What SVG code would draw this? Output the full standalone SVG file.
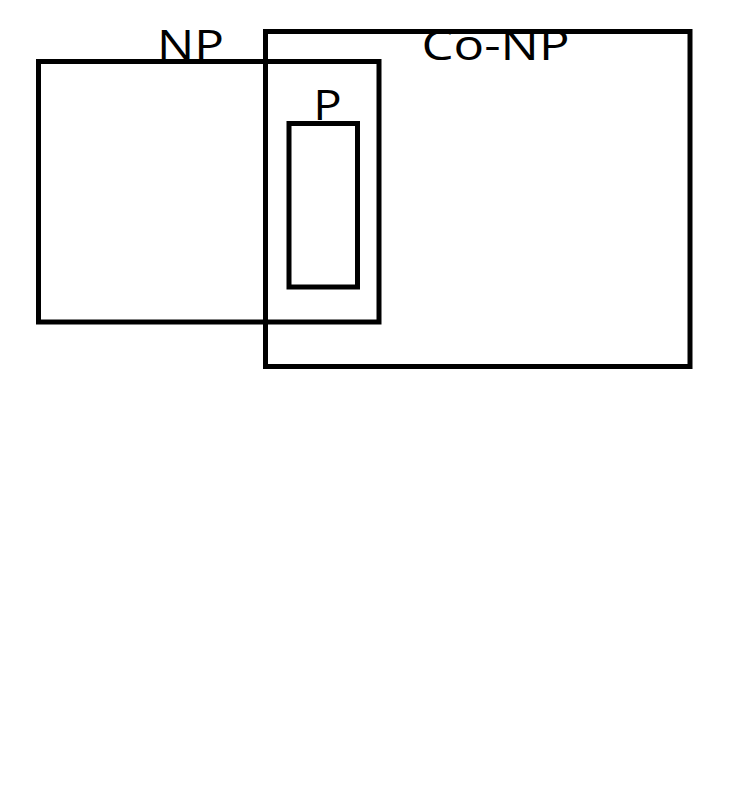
<svg xmlns="http://www.w3.org/2000/svg" width="749" height="793" viewBox="0 0 749 793">
<style>
.box{fill:none;stroke:#000;stroke-width:5}
.lbl{font-family:"Open Sans","Noto Sans",sans-serif;font-size:42px;fill:#000;text-anchor:middle}
</style>
<rect width="749" height="793" fill="#fff"/>
<g id="np">
<rect class="box" x="38.5" y="61.5" width="340.5" height="260.5"/>
<text class="lbl" x="190.5" y="60" textLength="67" lengthAdjust="spacingAndGlyphs">NP</text>
</g>
<g id="conp">
<rect class="box" x="265.5" y="31.5" width="424.5" height="335"/>
<text class="lbl" x="495.5" y="60" textLength="148" lengthAdjust="spacingAndGlyphs">Co-NP</text>
</g>
<g id="p">
<rect class="box" x="289" y="123.5" width="68.5" height="163.5"/>
<text class="lbl" x="327.5" y="120" textLength="28.5" lengthAdjust="spacingAndGlyphs">P</text>
</g>
<g id="connectors"/>
</svg>
